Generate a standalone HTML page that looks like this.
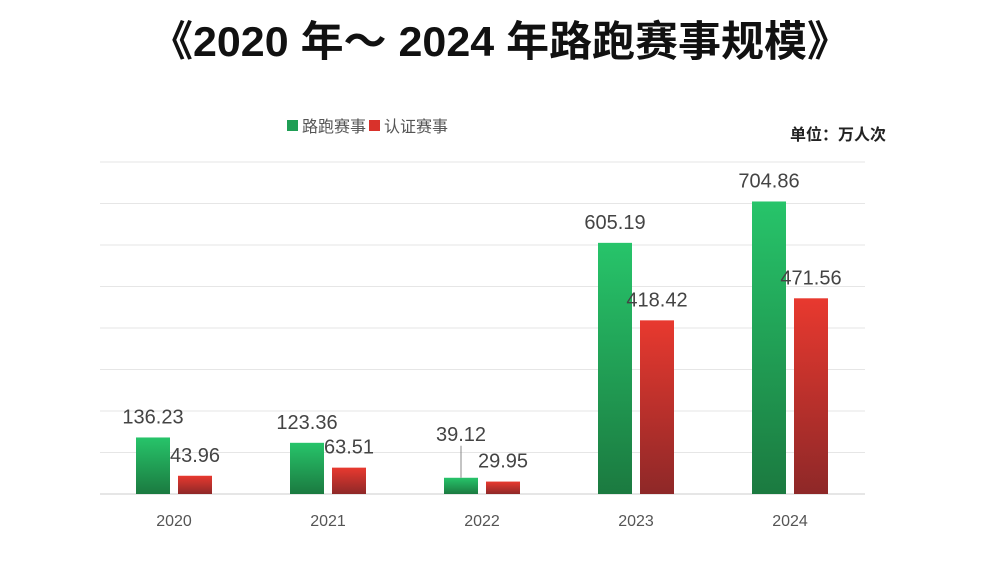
<!DOCTYPE html>
<html><head><meta charset="utf-8"><style>
body{margin:0;width:1000px;height:563px;background:#fff;overflow:hidden;font-family:"Liberation Sans","Noto Sans CJK SC",sans-serif;}
</style></head><body>
<svg width="1000" height="563" id="chart" font-family="Liberation Sans, Noto Sans CJK SC, sans-serif">
<defs>
<linearGradient id="gG" x1="0" y1="0" x2="0" y2="1"><stop offset="0" stop-color="#27c46a"/><stop offset="1" stop-color="#1b7a40"/></linearGradient>
<linearGradient id="gR" x1="0" y1="0" x2="0" y2="1"><stop offset="0" stop-color="#e8392f"/><stop offset="1" stop-color="#8e2828"/></linearGradient>
</defs>
<text x="150" y="56" textLength="700" lengthAdjust="spacingAndGlyphs" font-size="42" font-weight="bold" fill="#111">《2020 年～ 2024 年路跑赛事规模》</text>
<rect x="287" y="120" width="11" height="11" fill="#1f9e55"/>
<text x="302" y="132" font-size="16" fill="#555">路跑赛事</text>
<rect x="369" y="120" width="11" height="11" fill="#d9322b"/>
<text x="384" y="132" font-size="16" fill="#555">认证赛事</text>
<text x="886" y="140" text-anchor="end" font-size="16" font-weight="bold" fill="#222">单位：万人次</text>
<g id="grid"></g><g id="bars"></g><g id="labels"></g>
</svg>
<script>
const categories=["2020","2021","2022","2023","2024"];
const roadRaces=[136.23,123.36,39.12,605.19,704.86];
const certifiedRaces=[43.96,63.51,29.95,418.42,471.56];
const yTicks=[0,100,200,300,400,500,600,700,800];
const ns="http://www.w3.org/2000/svg";
const y0=494,yTop=162,vMax=800;
const y=v=>y0-(v/vMax)*(y0-yTop);
const x=i=>174+i*154;
function mk(t,a,p){const e=document.createElementNS(ns,t);for(const k in a)e.setAttribute(k,a[k]);document.getElementById(p).appendChild(e);return e;}
yTicks.forEach(t=>{const l=mk('line',{x1:100,x2:865,y1:y(t),y2:y(t),stroke:t===0?'#ccc':'#e6e6e6','stroke-width':1},'grid');

});
categories.forEach((c,i)=>{
 const cx=x(i);
 const g=mk('rect',{x:cx-38,y:y(roadRaces[i]),width:34,height:y0-y(roadRaces[i]),fill:'url(#gG)'},'bars');
 
 
 const r=mk('rect',{x:cx+4,y:y(certifiedRaces[i]),width:34,height:y0-y(certifiedRaces[i]),fill:'url(#gR)'},'bars');
 
 
 let gy=y(roadRaces[i])-14;
 if(roadRaces[i]<60){gy-=23;const ln=mk('line',{x1:cx-21,x2:cx-21,y1:gy+5,y2:y(roadRaces[i]),stroke:'#888','stroke-width':1},'labels');
 
 }
 const gt=mk('text',{x:cx-21,y:gy,'text-anchor':'middle','font-size':20,fill:'#444'},'labels');gt.textContent=roadRaces[i].toFixed(2);
 
 
 const rt=mk('text',{x:cx+21,y:y(certifiedRaces[i])-14,'text-anchor':'middle','font-size':20,fill:'#444'},'labels');rt.textContent=certifiedRaces[i].toFixed(2);
 
 
 const xt=mk('text',{x:cx,y:526,'text-anchor':'middle','font-size':16,fill:'#555'},'labels');xt.textContent=c;
 
 
});
</script>
</body></html>
